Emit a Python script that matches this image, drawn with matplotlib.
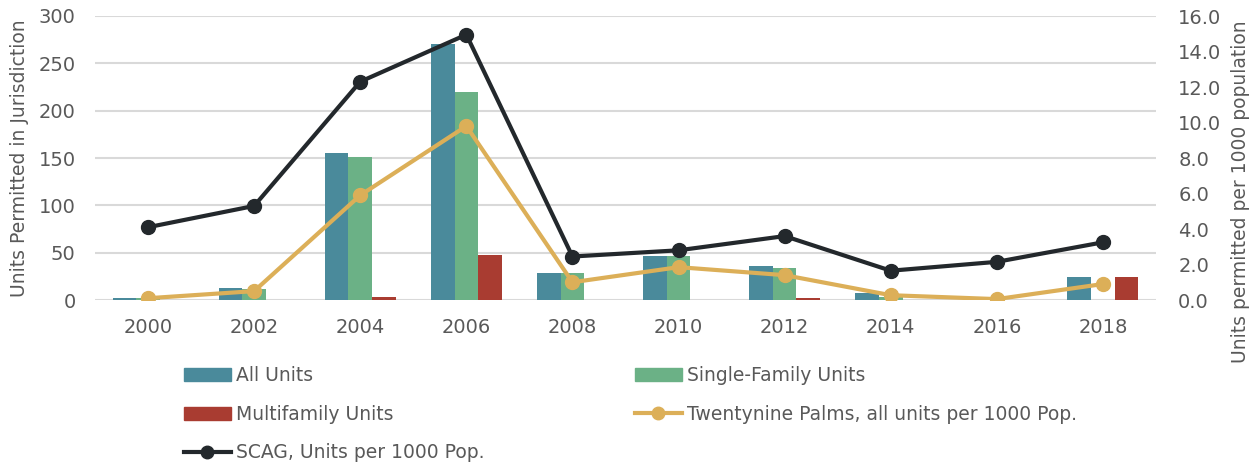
import matplotlib
matplotlib.use("Agg")
import matplotlib.pyplot as plt
import numpy as np
from matplotlib.lines import Line2D
from matplotlib.patches import Patch

years = ["2000", "2002", "2004", "2006", "2008", "2010", "2012", "2014", "2016", "2018"]
all_units = [2, 13, 155, 270, 29, 47, 36, 7, 0, 24]
single_family = [2, 12, 151, 220, 28, 47, 34, 3, 0, 0]
multifamily = [0, 0, 3, 48, 0, 0, 2, 0, 0, 24]
twentynine_palms = [0.1, 0.5, 5.9, 9.8, 1.0, 1.85, 1.4, 0.27, 0.05, 0.9]
scag = [4.1, 5.3, 12.3, 14.95, 2.45, 2.8, 3.6, 1.65, 2.15, 3.25]

c_all = "#4a8a9b"
c_sf = "#6bb186"
c_mf = "#a93c31"
c_tp = "#dcaf58"
c_scag = "#23282c"
txt = "#595959"

plt.rcParams['font.family'] = ['DejaVu Sans']

W, H = 1260, 465
fig = plt.figure(figsize=(W / 100, H / 100), dpi=100)
ax = fig.add_axes([95 / W, 1 - 300 / H, (1156 - 95) / W, 284 / H])
ax2 = ax.twinx()

x = np.arange(len(years))
w = 0.223
ax.bar(x - w, all_units, w, color=c_all, zorder=2)
ax.bar(x, single_family, w, color=c_sf, zorder=2)
ax.bar(x + w, multifamily, w, color=c_mf, zorder=2)

ax.set_xlim(-0.5, len(years) - 0.5)
ax.set_ylim(0, 300)
ax.set_yticks(range(0, 301, 50))
ax.set_xticks(x)
ax.set_xticklabels(years)
ax.grid(axis='y', color='#d9d9d9', linewidth=1.5, zorder=0)
ax.set_axisbelow(True)

ax2.plot(x, twentynine_palms, color=c_tp, lw=3.0, marker='o', ms=10, zorder=3)
ax2.plot(x, scag, color=c_scag, lw=3.0, marker='o', ms=10, zorder=4)
ax2.set_ylim(0, 16)
ax2.set_yticks(np.arange(0, 16.1, 2))
ax2.set_yticklabels([f"{v:.1f}" for v in np.arange(0, 16.1, 2)])

for a in (ax, ax2):
    for s in a.spines.values():
        s.set_visible(False)
    a.tick_params(length=0, labelsize=14, colors=txt)
ax.tick_params(axis='x', pad=13)
ax.tick_params(axis='y', pad=14)
ax2.tick_params(axis='y', pad=16)

ax.set_ylabel("Units Permitted in Jurisdiction", fontsize=13.5, color=txt)
ax.yaxis.set_label_coords(-66 / (1156 - 95), 0.5)
ax2.set_ylabel("Units permitted per 1000 population", fontsize=13.5, color=txt)
ax2.yaxis.set_label_coords(1 + 75 / (1156 - 95), 0.38)

leg_kw = dict(frameon=False, fontsize=13.5, labelcolor=txt, handlelength=2.5,
              handletextpad=0.25, labelspacing=1.05, borderaxespad=0, borderpad=0,
              loc='upper left')
h1 = [Patch(color=c_all), Patch(color=c_mf),
      Line2D([], [], color=c_scag, lw=3.0, marker='o', ms=9)]
l1 = ["All Units", "Multifamily Units", "SCAG, Units per 1000 Pop."]
h2 = [Patch(color=c_sf), Line2D([], [], color=c_tp, lw=3.0, marker='o', ms=9)]
l2 = ["Single-Family Units", "Twentynine Palms, all units per 1000 Pop."]
leg1 = fig.legend(h1, l1, bbox_to_anchor=(184 / W, 1 - 366 / H), **leg_kw)
leg2 = fig.legend(h2, l2, bbox_to_anchor=(635 / W, 1 - 366 / H), **leg_kw)

fig.savefig("out.png", dpi=100)
